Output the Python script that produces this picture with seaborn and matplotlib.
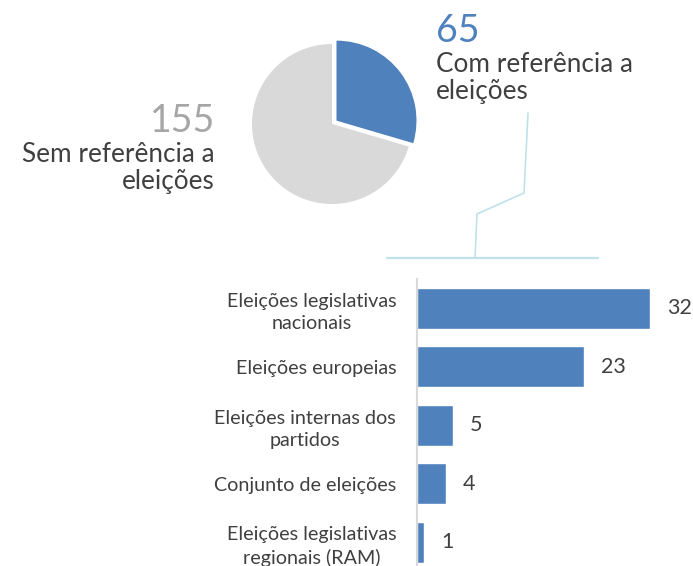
import matplotlib
matplotlib.use("Agg")
import matplotlib.pyplot as plt
from matplotlib.lines import Line2D
import seaborn as sns
import pandas as pd

# Overall split of the analysed items
pie_labels = ["Com referência a\neleições", "Sem referência a\neleições"]
pie_values = [65, 155]

# Breakdown of the items that mention elections
categories = [
    "Eleições legislativas\nnacionais",
    "Eleições europeias",
    "Eleições internas dos\npartidos",
    "Conjunto de eleições",
    "Eleições legislativas\nregionais (RAM)",
]
counts = [32, 23, 5, 4, 1]

BLUE = "#4f81bd"
GREY = "#d9d9d9"
TEXT = "#404040"
NUM_GREY = "#a6a6a6"
LINE = "#bfe1ea"

sns.set_theme(style="white")
plt.rcParams["font.family"] = ["Lato", "DejaVu Sans"]

W, H = 693, 566
fig = plt.figure(figsize=(W / 100, H / 100), dpi=100)


def fx(px):
    return px / W


def fy(py):
    return 1 - py / H


# ---- pie ----
cx, cy, r = 332, 124, 80
half = r * 1.1
ax_pie = fig.add_axes([fx(cx - half), fy(cy + half), 2 * half / W, 2 * half / H])
ax_pie.pie(pie_values, colors=[BLUE, GREY], startangle=90, counterclock=False,
           explode=[0.07, 0], radius=1, wedgeprops=dict(linewidth=0))
ax_pie.set_xlim(-1.1, 1.1)
ax_pie.set_ylim(-1.1, 1.1)
ax_pie.axis("off")


def callout(x, y_num, number, color, label, ha):
    fig.text(fx(x), fy(y_num), f"{number}", color=color, fontsize=27,
             ha=ha, va="baseline")
    for i, line in enumerate(label.split("\n")):
        fig.text(fx(x), fy(y_num + 30 + 27 * i), line, color=TEXT,
                 fontsize=18.8, ha=ha, va="baseline")


callout(436, 42, pie_values[0], BLUE, pie_labels[0], "left")
callout(215, 132, pie_values[1], NUM_GREY, pie_labels[1], "right")

# connector from the blue slice to the breakdown
conn = fig.add_axes([0, 0, 1, 1], zorder=-1)
conn.set_xlim(0, W)
conn.set_ylim(H, 0)
conn.axis("off")
conn.add_line(Line2D([528, 524, 477, 475], [113, 193, 214, 258], color=LINE, lw=1.2))
conn.add_line(Line2D([387, 598], [258, 258], color=LINE, lw=1.6))

# ---- bars ----
df = pd.DataFrame({"categoria": categories, "n": counts})
x0 = 417
unit = 7.28
xmax = 36
ax = fig.add_axes([fx(x0), 0, xmax * unit / W, (H - 279) / H])
sns.barplot(data=df, x="n", y="categoria", orient="h", color=BLUE,
            saturation=1, width=0.7, ax=ax)
ax.set_xlim(0, xmax)
ax.set_ylim(-0.5 + (H - 279) / 58.5, -0.5)
ax.set_xlabel("")
ax.set_ylabel("")
ax.set_xticks([])
for s in ["top", "right", "bottom"]:
    ax.spines[s].set_visible(False)
ax.spines["left"].set_color("#d9d9d9")
ax.spines["left"].set_linewidth(1.5)
ax.tick_params(axis="y", length=0, pad=15, labelsize=14.2, labelcolor=TEXT)
for t in ax.get_yticklabels():
    t.set_multialignment("center")
    t.set_linespacing(1.35)
for c in ax.containers:
    ax.bar_label(c, labels=[str(v) for v in counts], padding=12,
                 fontsize=15.5, color=TEXT)

fig.savefig("out.png", dpi=100)
